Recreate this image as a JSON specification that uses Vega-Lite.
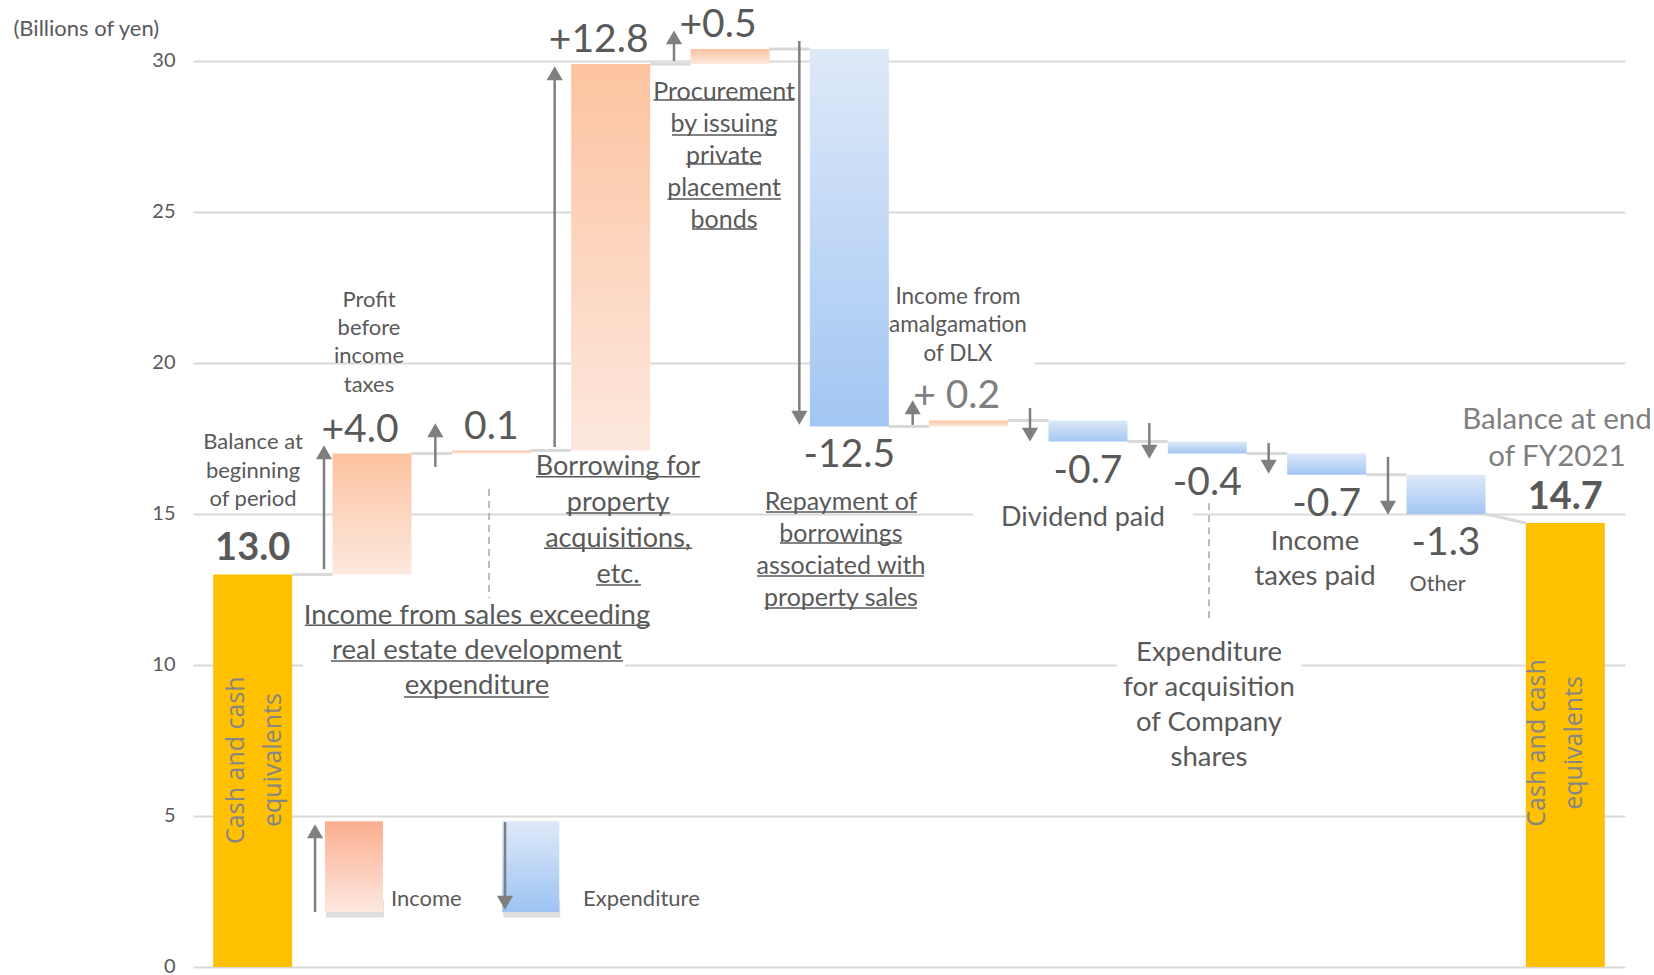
{
  "$schema": "https://vega.github.io/schema/vega-lite/v6.json",
  "width": 1432,
  "height": 906,
  "autosize": {"type": "none"},
  "padding": {"left": 193, "top": 61, "right": 29, "bottom": 8},
  "background": "white",
  "config": {"view": {"stroke": null}, "font": "Lato", "text": {"font": "Lato", "color": "#595959"}},
  "data": {"values": [{}]},
  "datasets": {
    "steps": [
      {"order": 1, "step": "Balance at beginning of period", "kind": "balance", "start": 0, "end": 13.0, "label": "13.0"},
      {"order": 2, "step": "Profit before income taxes", "kind": "income", "start": 13.0, "end": 17.0, "label": "+4.0"},
      {"order": 3, "step": "Income from sales exceeding real estate development expenditure", "kind": "income", "start": 17.0, "end": 17.1, "label": "0.1"},
      {"order": 4, "step": "Borrowing for property acquisitions, etc.", "kind": "income", "start": 17.1, "end": 29.9, "label": "+12.8"},
      {"order": 5, "step": "Procurement by issuing private placement bonds", "kind": "income", "start": 29.9, "end": 30.4, "label": "+0.5"},
      {"order": 6, "step": "Repayment of borrowings associated with property sales", "kind": "expenditure", "start": 30.4, "end": 17.9, "label": "-12.5"},
      {"order": 7, "step": "Income from amalgamation of DLX", "kind": "income", "start": 17.9, "end": 18.1, "label": "+ 0.2"},
      {"order": 8, "step": "Dividend paid", "kind": "expenditure", "start": 18.1, "end": 17.4, "label": "-0.7"},
      {"order": 9, "step": "Expenditure for acquisition of Company shares", "kind": "expenditure", "start": 17.4, "end": 17.0, "label": "-0.4"},
      {"order": 10, "step": "Income taxes paid", "kind": "expenditure", "start": 17.0, "end": 16.3, "label": "-0.7"},
      {"order": 11, "step": "Other", "kind": "expenditure", "start": 16.3, "end": 15.0, "label": "-1.3"},
      {"order": 12, "step": "Balance at end of FY2021", "kind": "balance", "start": 0, "end": 14.7, "label": "14.7"}
    ],
    "arrows": [
      {"order": 2, "base": 13.17, "tip": 17.35, "dir": "up"},
      {"order": 3, "base": 16.56, "tip": 18.08, "dir": "up"},
      {"order": 4, "base": 17.22, "tip": 29.9, "dir": "up"},
      {"order": 5, "base": 30.0, "tip": 31.09, "dir": "up"},
      {"order": 6, "base": 30.66, "tip": 17.88, "dir": "down"},
      {"order": 7, "base": 17.95, "tip": 18.84, "dir": "up"},
      {"order": 8, "base": 18.51, "tip": 17.32, "dir": "down"},
      {"order": 9, "base": 18.01, "tip": 16.75, "dir": "down"},
      {"order": 10, "base": 17.35, "tip": 16.26, "dir": "down"},
      {"order": 11, "base": 16.89, "tip": 14.9, "dir": "down"}
    ]
  },
  "layer": [
    {
      "data": {"name": "steps"},
      "transform": [{"filter": "datum.kind == 'balance'"}],
      "mark": {"type": "bar", "width": 79, "color": "#FFC000"},
      "encoding": {
        "x": {"field": "order", "type": "quantitative", "scale": {"domain": [0.5, 12.5], "nice": false, "zero": false, "padding": 0}, "axis": null},
        "y": {"field": "start", "type": "quantitative", "scale": {"domain": [0, 30], "nice": false},
          "axis": {"orient": "left", "values": [0, 5, 10, 15, 20, 25, 30], "grid": true, "gridColor": "#D9D9D9", "gridWidth": 2, "domain": false, "ticks": false,
            "labelFont": "Lato", "labelFontSize": 20, "labelColor": "#595959", "labelPadding": 18, "labelOffset": -1,
            "title": "(Billions of yen)", "titleAngle": 0, "titleAlign": "left", "titleBaseline": "middle", "titleX": -180, "titleY": -33,
            "titleFont": "Lato", "titleFontSize": 22, "titleFontWeight": "normal", "titleColor": "#595959"}},
        "y2": {"field": "end"}
      }
    },
    {
      "mark": {"type": "rect", "fill": "white"},
      "encoding": {
        "x": {"datum": 4.335, "type": "quantitative", "scale": {"domain": [0.5, 12.5], "nice": false, "zero": false, "padding": 0}, "axis": null},
        "x2": {"datum": 5.665},
        "y": {"datum": 23.2, "type": "quantitative", "scale": {"domain": [0, 30], "nice": false}},
        "y2": {"datum": 29.5}
      }
    },
    {
      "mark": {"type": "rect", "fill": "white"},
      "encoding": {
        "x": {"datum": 6.335, "type": "quantitative", "scale": {"domain": [0.5, 12.5], "nice": false, "zero": false, "padding": 0}, "axis": null},
        "x2": {"datum": 7.55},
        "y": {"datum": 19.3, "type": "quantitative", "scale": {"domain": [0, 30], "nice": false}},
        "y2": {"datum": 22.6}
      }
    },
    {
      "mark": {"type": "rect", "fill": "white"},
      "encoding": {
        "x": {"datum": 7.04, "type": "quantitative", "scale": {"domain": [0.5, 12.5], "nice": false, "zero": false, "padding": 0}, "axis": null},
        "x2": {"datum": 8.88},
        "y": {"datum": 14.3, "type": "quantitative", "scale": {"domain": [0, 30], "nice": false}},
        "y2": {"datum": 15.5}
      }
    },
    {
      "mark": {"type": "rect", "fill": "white"},
      "encoding": {
        "x": {"datum": 8.24, "type": "quantitative", "scale": {"domain": [0.5, 12.5], "nice": false, "zero": false, "padding": 0}, "axis": null},
        "x2": {"datum": 9.79},
        "y": {"datum": 9.17, "type": "quantitative", "scale": {"domain": [0, 30], "nice": false}},
        "y2": {"datum": 10.83}
      }
    },
    {
      "mark": {"type": "rect", "fill": "white"},
      "encoding": {
        "x": {"datum": 1.42, "type": "quantitative", "scale": {"domain": [0.5, 12.5], "nice": false, "zero": false, "padding": 0}, "axis": null},
        "x2": {"datum": 4.12},
        "y": {"datum": 9.17, "type": "quantitative", "scale": {"domain": [0, 30], "nice": false}},
        "y2": {"datum": 10.83}
      }
    },
    {
      "data": {"name": "steps"},
      "transform": [{"filter": "datum.kind != 'balance'"}],
      "mark": {"type": "rule", "stroke": "#D9D9D9", "strokeWidth": 3, "xOffset": -80, "x2Offset": -39.5},
      "encoding": {
        "x": {"field": "order", "type": "quantitative", "scale": {"domain": [0.5, 12.5], "nice": false, "zero": false, "padding": 0}, "axis": null},
        "x2": {"field": "order"},
        "y": {"field": "start", "type": "quantitative", "scale": {"domain": [0, 30], "nice": false}}
      }
    },
    {
      "mark": {"type": "rule", "stroke": "#D9D9D9", "strokeWidth": 3, "xOffset": 39.5, "x2Offset": -39.5},
      "encoding": {
        "x": {"datum": 11, "type": "quantitative", "scale": {"domain": [0.5, 12.5], "nice": false, "zero": false, "padding": 0}, "axis": null},
        "x2": {"datum": 12},
        "y": {"datum": 15.0, "type": "quantitative", "scale": {"domain": [0, 30], "nice": false}},
        "y2": {"datum": 14.7}
      }
    },
    {
      "data": {"name": "steps"},
      "transform": [{"filter": "datum.kind == 'income'"}],
      "mark": {"type": "bar", "width": 79, "color": {"gradient": "linear", "x1": 0, "y1": 0, "x2": 0, "y2": 1, "stops": [{"offset": 0, "color": "#FCC3A0"}, {"offset": 1, "color": "#FDE8DE"}]}},
      "encoding": {
        "x": {"field": "order", "type": "quantitative", "scale": {"domain": [0.5, 12.5], "nice": false, "zero": false, "padding": 0}, "axis": null},
        "y": {"field": "start", "type": "quantitative", "scale": {"domain": [0, 30], "nice": false}},
        "y2": {"field": "end"}
      }
    },
    {
      "data": {"name": "steps"},
      "transform": [{"filter": "datum.kind == 'expenditure'"}],
      "mark": {"type": "bar", "width": 79, "color": {"gradient": "linear", "x1": 0, "y1": 0, "x2": 0, "y2": 1, "stops": [{"offset": 0, "color": "#DEE9F8"}, {"offset": 1, "color": "#A2C6F3"}]}},
      "encoding": {
        "x": {"field": "order", "type": "quantitative", "scale": {"domain": [0.5, 12.5], "nice": false, "zero": false, "padding": 0}, "axis": null},
        "y": {"field": "start", "type": "quantitative", "scale": {"domain": [0, 30], "nice": false}},
        "y2": {"field": "end"}
      }
    },
    {
      "data": {"name": "arrows"},
      "transform": [{"filter": "datum.dir == 'up' && datum.order != 2"}],
      "mark": {"type": "rule", "stroke": "#7F7F7F", "strokeWidth": 2.5, "xOffset": -56, "x2Offset": -56, "y2Offset": 7},
      "encoding": {
        "x": {"field": "order", "type": "quantitative", "scale": {"domain": [0.5, 12.5], "nice": false, "zero": false, "padding": 0}, "axis": null},
        "y": {"field": "base", "type": "quantitative", "scale": {"domain": [0, 30], "nice": false}},
        "y2": {"field": "tip"}
      }
    },
    {
      "data": {"name": "arrows"},
      "transform": [{"filter": "datum.dir == 'up' && datum.order != 2"}],
      "mark": {"type": "point", "shape": "triangle-up", "size": 260, "filled": true, "opacity": 1, "color": "#7F7F7F", "xOffset": -56, "yOffset": 9.3},
      "encoding": {
        "x": {"field": "order", "type": "quantitative", "scale": {"domain": [0.5, 12.5], "nice": false, "zero": false, "padding": 0}, "axis": null},
        "y": {"field": "tip", "type": "quantitative", "scale": {"domain": [0, 30], "nice": false}}
      }
    },
    {
      "data": {"name": "arrows"},
      "transform": [{"filter": "datum.order == 2"}],
      "mark": {"type": "rule", "stroke": "#7F7F7F", "strokeWidth": 2.5, "xOffset": -48, "x2Offset": -48, "y2Offset": 7},
      "encoding": {
        "x": {"field": "order", "type": "quantitative", "scale": {"domain": [0.5, 12.5], "nice": false, "zero": false, "padding": 0}, "axis": null},
        "y": {"field": "base", "type": "quantitative", "scale": {"domain": [0, 30], "nice": false}},
        "y2": {"field": "tip"}
      }
    },
    {
      "data": {"name": "arrows"},
      "transform": [{"filter": "datum.order == 2"}],
      "mark": {"type": "point", "shape": "triangle-up", "size": 260, "filled": true, "opacity": 1, "color": "#7F7F7F", "xOffset": -48, "yOffset": 9.3},
      "encoding": {
        "x": {"field": "order", "type": "quantitative", "scale": {"domain": [0.5, 12.5], "nice": false, "zero": false, "padding": 0}, "axis": null},
        "y": {"field": "tip", "type": "quantitative", "scale": {"domain": [0, 30], "nice": false}}
      }
    },
    {
      "data": {"name": "arrows"},
      "transform": [{"filter": "datum.dir == 'down' && datum.order != 6"}],
      "mark": {"type": "rule", "stroke": "#7F7F7F", "strokeWidth": 2.5, "xOffset": -58, "x2Offset": -58, "y2Offset": -7},
      "encoding": {
        "x": {"field": "order", "type": "quantitative", "scale": {"domain": [0.5, 12.5], "nice": false, "zero": false, "padding": 0}, "axis": null},
        "y": {"field": "base", "type": "quantitative", "scale": {"domain": [0, 30], "nice": false}},
        "y2": {"field": "tip"}
      }
    },
    {
      "data": {"name": "arrows"},
      "transform": [{"filter": "datum.dir == 'down' && datum.order != 6"}],
      "mark": {"type": "point", "shape": "triangle-down", "size": 260, "filled": true, "opacity": 1, "color": "#7F7F7F", "xOffset": -58, "yOffset": -9.3},
      "encoding": {
        "x": {"field": "order", "type": "quantitative", "scale": {"domain": [0.5, 12.5], "nice": false, "zero": false, "padding": 0}, "axis": null},
        "y": {"field": "tip", "type": "quantitative", "scale": {"domain": [0, 30], "nice": false}}
      }
    },
    {
      "data": {"name": "arrows"},
      "transform": [{"filter": "datum.order == 6"}],
      "mark": {"type": "rule", "stroke": "#7F7F7F", "strokeWidth": 2.5, "xOffset": -50, "x2Offset": -50, "y2Offset": -7},
      "encoding": {
        "x": {"field": "order", "type": "quantitative", "scale": {"domain": [0.5, 12.5], "nice": false, "zero": false, "padding": 0}, "axis": null},
        "y": {"field": "base", "type": "quantitative", "scale": {"domain": [0, 30], "nice": false}},
        "y2": {"field": "tip"}
      }
    },
    {
      "data": {"name": "arrows"},
      "transform": [{"filter": "datum.order == 6"}],
      "mark": {"type": "point", "shape": "triangle-down", "size": 260, "filled": true, "opacity": 1, "color": "#7F7F7F", "xOffset": -50, "yOffset": -9.3},
      "encoding": {
        "x": {"field": "order", "type": "quantitative", "scale": {"domain": [0.5, 12.5], "nice": false, "zero": false, "padding": 0}, "axis": null},
        "y": {"field": "tip", "type": "quantitative", "scale": {"domain": [0, 30], "nice": false}}
      }
    },
    {
      "mark": {"type": "rule", "stroke": "#A6A6A6", "strokeWidth": 1.5, "strokeDash": [7, 5]},
      "encoding": {
        "x": {"datum": 2.981, "type": "quantitative", "scale": {"domain": [0.5, 12.5], "nice": false, "zero": false, "padding": 0}, "axis": null},
        "y": {"datum": 15.83, "type": "quantitative", "scale": {"domain": [0, 30], "nice": false}},
        "y2": {"datum": 12.22}
      }
    },
    {
      "mark": {"type": "rule", "stroke": "#A6A6A6", "strokeWidth": 1.5, "strokeDash": [7, 5]},
      "encoding": {
        "x": {"datum": 9.014, "type": "quantitative", "scale": {"domain": [0.5, 12.5], "nice": false, "zero": false, "padding": 0}, "axis": null},
        "y": {"datum": 15.36, "type": "quantitative", "scale": {"domain": [0, 30], "nice": false}},
        "y2": {"datum": 11.42}
      }
    },
    {
      "data": {"name": "steps"},
      "transform": [{"filter": "datum.kind == 'balance'"}],
      "mark": {"type": "text", "fontSize": 38, "fontWeight": "bold", "color": "#595959", "baseline": "middle", "dy": -25},
      "encoding": {
        "x": {"field": "order", "type": "quantitative", "scale": {"domain": [0.5, 12.5], "nice": false, "zero": false, "padding": 0}, "axis": null},
        "y": {"field": "end", "type": "quantitative", "scale": {"domain": [0, 30], "nice": false}},
        "text": {"field": "label"}
      }
    },
    {
      "data": {"name": "steps"},
      "transform": [{"filter": "datum.kind == 'income' && indexof(datum.label, '+') == 0 && datum.order != 7"}],
      "mark": {"type": "text", "fontSize": 39, "color": "#595959", "baseline": "middle", "dy": -24, "dx": -12},
      "encoding": {
        "x": {"field": "order", "type": "quantitative", "scale": {"domain": [0.5, 12.5], "nice": false, "zero": false, "padding": 0}, "axis": null},
        "y": {"field": "end", "type": "quantitative", "scale": {"domain": [0, 30], "nice": false}},
        "text": {"field": "label"}
      }
    },
    {
      "data": {"name": "steps"},
      "transform": [{"filter": "datum.order == 7"}],
      "mark": {"type": "text", "fontSize": 39, "color": "#7F7F7F", "baseline": "middle", "dy": -24, "dx": -12},
      "encoding": {
        "x": {"field": "order", "type": "quantitative", "scale": {"domain": [0.5, 12.5], "nice": false, "zero": false, "padding": 0}, "axis": null},
        "y": {"field": "end", "type": "quantitative", "scale": {"domain": [0, 30], "nice": false}},
        "text": {"field": "label"}
      }
    },
    {
      "data": {"name": "steps"},
      "transform": [{"filter": "datum.kind == 'income' && indexof(datum.label, '+') != 0"}],
      "mark": {"type": "text", "fontSize": 39, "color": "#595959", "baseline": "middle", "dy": -24},
      "encoding": {
        "x": {"field": "order", "type": "quantitative", "scale": {"domain": [0.5, 12.5], "nice": false, "zero": false, "padding": 0}, "axis": null},
        "y": {"field": "end", "type": "quantitative", "scale": {"domain": [0, 30], "nice": false}},
        "text": {"field": "label"}
      }
    },
    {
      "data": {"name": "steps"},
      "transform": [{"filter": "datum.kind == 'expenditure'"}],
      "mark": {"type": "text", "fontSize": 39, "color": "#595959", "baseline": "middle", "dy": 29},
      "encoding": {
        "x": {"field": "order", "type": "quantitative", "scale": {"domain": [0.5, 12.5], "nice": false, "zero": false, "padding": 0}, "axis": null},
        "y": {"field": "end", "type": "quantitative", "scale": {"domain": [0, 30], "nice": false}},
        "text": {"field": "label"}
      }
    },
    {
      "mark": {"type": "text", "fontSize": 22, "color": "#595959", "baseline": "middle", "lineHeight": 28.5, "text": ["Balance at", "beginning", "of period"]},
      "encoding": {
        "x": {"datum": 1.003, "type": "quantitative", "scale": {"domain": [0.5, 12.5], "nice": false, "zero": false, "padding": 0}, "axis": null},
        "y": {"datum": 17.38, "type": "quantitative", "scale": {"domain": [0, 30], "nice": false}}
      }
    },
    {
      "mark": {"type": "text", "fontSize": 22, "color": "#595959", "baseline": "middle", "lineHeight": 28.3, "text": ["Profit", "before", "income", "taxes"]},
      "encoding": {
        "x": {"datum": 1.975, "type": "quantitative", "scale": {"domain": [0.5, 12.5], "nice": false, "zero": false, "padding": 0}, "axis": null},
        "y": {"datum": 22.09, "type": "quantitative", "scale": {"domain": [0, 30], "nice": false}}
      }
    },
    {
      "mark": {"type": "text", "fontSize": 27.5, "color": "#595959", "baseline": "middle", "lineHeight": 35, "text": ["Income from sales exceeding", "real estate development", "expenditure"]},
      "encoding": {
        "x": {"datum": 2.88, "type": "quantitative", "scale": {"domain": [0.5, 12.5], "nice": false, "zero": false, "padding": 0}, "axis": null},
        "y": {"datum": 11.62, "type": "quantitative", "scale": {"domain": [0, 30], "nice": false}}
      }
    },
    {
      "mark": {"type": "text", "fontSize": 27, "color": "#595959", "baseline": "middle", "lineHeight": 36, "text": ["Borrowing for", "property", "acquisitions,", "etc."]},
      "encoding": {
        "x": {"datum": 4.062, "type": "quantitative", "scale": {"domain": [0.5, 12.5], "nice": false, "zero": false, "padding": 0}, "axis": null},
        "y": {"datum": 16.57, "type": "quantitative", "scale": {"domain": [0, 30], "nice": false}}
      }
    },
    {
      "mark": {"type": "text", "fontSize": 25, "color": "#595959", "baseline": "middle", "lineHeight": 32, "text": ["Procurement", "by issuing", "private", "placement", "bonds"]},
      "encoding": {
        "x": {"datum": 4.95, "type": "quantitative", "scale": {"domain": [0.5, 12.5], "nice": false, "zero": false, "padding": 0}, "axis": null},
        "y": {"datum": 28.97, "type": "quantitative", "scale": {"domain": [0, 30], "nice": false}}
      }
    },
    {
      "mark": {"type": "text", "fontSize": 25, "color": "#595959", "baseline": "middle", "lineHeight": 32, "text": ["Repayment of", "borrowings", "associated with", "property sales"]},
      "encoding": {
        "x": {"datum": 5.93, "type": "quantitative", "scale": {"domain": [0.5, 12.5], "nice": false, "zero": false, "padding": 0}, "axis": null},
        "y": {"datum": 15.4, "type": "quantitative", "scale": {"domain": [0, 30], "nice": false}}
      }
    },
    {
      "mark": {"type": "text", "fontSize": 22.5, "color": "#595959", "baseline": "middle", "lineHeight": 28.5, "text": ["Income from", "amalgamation", "of DLX"]},
      "encoding": {
        "x": {"datum": 6.91, "type": "quantitative", "scale": {"domain": [0.5, 12.5], "nice": false, "zero": false, "padding": 0}, "axis": null},
        "y": {"datum": 22.19, "type": "quantitative", "scale": {"domain": [0, 30], "nice": false}}
      }
    },
    {
      "mark": {"type": "text", "fontSize": 27, "color": "#595959", "baseline": "middle", "text": "Dividend paid"},
      "encoding": {
        "x": {"datum": 7.958, "type": "quantitative", "scale": {"domain": [0.5, 12.5], "nice": false, "zero": false, "padding": 0}, "axis": null},
        "y": {"datum": 14.87, "type": "quantitative", "scale": {"domain": [0, 30], "nice": false}}
      }
    },
    {
      "mark": {"type": "text", "fontSize": 27.5, "color": "#595959", "baseline": "middle", "lineHeight": 35, "text": ["Expenditure", "for acquisition", "of Company", "shares"]},
      "encoding": {
        "x": {"datum": 9.014, "type": "quantitative", "scale": {"domain": [0.5, 12.5], "nice": false, "zero": false, "padding": 0}, "axis": null},
        "y": {"datum": 10.4, "type": "quantitative", "scale": {"domain": [0, 30], "nice": false}}
      }
    },
    {
      "mark": {"type": "text", "fontSize": 27.5, "color": "#595959", "baseline": "middle", "lineHeight": 35, "text": ["Income", "taxes paid"]},
      "encoding": {
        "x": {"datum": 9.902, "type": "quantitative", "scale": {"domain": [0.5, 12.5], "nice": false, "zero": false, "padding": 0}, "axis": null},
        "y": {"datum": 14.07, "type": "quantitative", "scale": {"domain": [0, 30], "nice": false}}
      }
    },
    {
      "mark": {"type": "text", "fontSize": 21.5, "color": "#595959", "baseline": "middle", "text": "Other"},
      "encoding": {
        "x": {"datum": 10.93, "type": "quantitative", "scale": {"domain": [0.5, 12.5], "nice": false, "zero": false, "padding": 0}, "axis": null},
        "y": {"datum": 12.65, "type": "quantitative", "scale": {"domain": [0, 30], "nice": false}}
      }
    },
    {
      "mark": {"type": "text", "fontSize": 29.5, "color": "#7F7F7F", "baseline": "middle", "lineHeight": 37, "text": ["Balance at end", "of FY2021"]},
      "encoding": {
        "x": {"datum": 11.93, "type": "quantitative", "scale": {"domain": [0.5, 12.5], "nice": false, "zero": false, "padding": 0}, "axis": null},
        "y": {"datum": 18.11, "type": "quantitative", "scale": {"domain": [0, 30], "nice": false}}
      }
    },
    {
      "mark": {"type": "text", "font": "Open Sans", "fontSize": 25, "color": "#858585", "baseline": "middle", "angle": 270, "lineHeight": 37, "text": ["Cash and cash", "equivalents"]},
      "encoding": {
        "x": {"datum": 0.86, "type": "quantitative", "scale": {"domain": [0.5, 12.5], "nice": false, "zero": false, "padding": 0}, "axis": null},
        "y": {"datum": 6.85, "type": "quantitative", "scale": {"domain": [0, 30], "nice": false}}
      }
    },
    {
      "mark": {"type": "text", "font": "Open Sans", "fontSize": 25, "color": "#858585", "baseline": "middle", "angle": 270, "lineHeight": 37, "text": ["Cash and cash", "equivalents"]},
      "encoding": {
        "x": {"datum": 11.76, "type": "quantitative", "scale": {"domain": [0.5, 12.5], "nice": false, "zero": false, "padding": 0}, "axis": null},
        "y": {"datum": 7.42, "type": "quantitative", "scale": {"domain": [0, 30], "nice": false}}
      }
    },
    {
      "mark": {"type": "rule", "stroke": "#595959", "strokeWidth": 1.5},
      "encoding": {
        "x": {"datum": 1.439, "type": "quantitative", "scale": {"domain": [0.5, 12.5], "nice": false, "zero": false, "padding": 0}, "axis": null},
        "x2": {"datum": 4.33},
        "y": {"datum": 11.32, "type": "quantitative", "scale": {"domain": [0, 30], "nice": false}}
      }
    },
    {
      "mark": {"type": "rule", "stroke": "#595959", "strokeWidth": 1.5},
      "encoding": {
        "x": {"datum": 1.656, "type": "quantitative", "scale": {"domain": [0.5, 12.5], "nice": false, "zero": false, "padding": 0}, "axis": null},
        "x2": {"datum": 4.103},
        "y": {"datum": 10.13, "type": "quantitative", "scale": {"domain": [0, 30], "nice": false}}
      }
    },
    {
      "mark": {"type": "rule", "stroke": "#595959", "strokeWidth": 1.5},
      "encoding": {
        "x": {"datum": 2.268, "type": "quantitative", "scale": {"domain": [0.5, 12.5], "nice": false, "zero": false, "padding": 0}, "axis": null},
        "x2": {"datum": 3.483},
        "y": {"datum": 8.94, "type": "quantitative", "scale": {"domain": [0, 30], "nice": false}}
      }
    },
    {
      "mark": {"type": "rule", "stroke": "#595959", "strokeWidth": 1.5},
      "encoding": {
        "x": {"datum": 3.374, "type": "quantitative", "scale": {"domain": [0.5, 12.5], "nice": false, "zero": false, "padding": 0}, "axis": null},
        "x2": {"datum": 4.749},
        "y": {"datum": 16.23, "type": "quantitative", "scale": {"domain": [0, 30], "nice": false}}
      }
    },
    {
      "mark": {"type": "rule", "stroke": "#595959", "strokeWidth": 1.5},
      "encoding": {
        "x": {"datum": 3.626, "type": "quantitative", "scale": {"domain": [0.5, 12.5], "nice": false, "zero": false, "padding": 0}, "axis": null},
        "x2": {"datum": 4.497},
        "y": {"datum": 15.03, "type": "quantitative", "scale": {"domain": [0, 30], "nice": false}}
      }
    },
    {
      "mark": {"type": "rule", "stroke": "#595959", "strokeWidth": 1.5},
      "encoding": {
        "x": {"datum": 3.441, "type": "quantitative", "scale": {"domain": [0.5, 12.5], "nice": false, "zero": false, "padding": 0}, "axis": null},
        "x2": {"datum": 4.682},
        "y": {"datum": 13.87, "type": "quantitative", "scale": {"domain": [0, 30], "nice": false}}
      }
    },
    {
      "mark": {"type": "rule", "stroke": "#595959", "strokeWidth": 1.5},
      "encoding": {
        "x": {"datum": 3.877, "type": "quantitative", "scale": {"domain": [0.5, 12.5], "nice": false, "zero": false, "padding": 0}, "axis": null},
        "x2": {"datum": 4.254},
        "y": {"datum": 12.65, "type": "quantitative", "scale": {"domain": [0, 30], "nice": false}}
      }
    },
    {
      "mark": {"type": "rule", "stroke": "#595959", "strokeWidth": 1.5},
      "encoding": {
        "x": {"datum": 4.36, "type": "quantitative", "scale": {"domain": [0.5, 12.5], "nice": false, "zero": false, "padding": 0}, "axis": null},
        "x2": {"datum": 5.541},
        "y": {"datum": 28.71, "type": "quantitative", "scale": {"domain": [0, 30], "nice": false}}
      }
    },
    {
      "mark": {"type": "rule", "stroke": "#595959", "strokeWidth": 1.5},
      "encoding": {
        "x": {"datum": 4.514, "type": "quantitative", "scale": {"domain": [0.5, 12.5], "nice": false, "zero": false, "padding": 0}, "axis": null},
        "x2": {"datum": 5.386},
        "y": {"datum": 27.55, "type": "quantitative", "scale": {"domain": [0, 30], "nice": false}}
      }
    },
    {
      "mark": {"type": "rule", "stroke": "#595959", "strokeWidth": 1.5},
      "encoding": {
        "x": {"datum": 4.631, "type": "quantitative", "scale": {"domain": [0.5, 12.5], "nice": false, "zero": false, "padding": 0}, "axis": null},
        "x2": {"datum": 5.26},
        "y": {"datum": 26.59, "type": "quantitative", "scale": {"domain": [0, 30], "nice": false}}
      }
    },
    {
      "mark": {"type": "rule", "stroke": "#595959", "strokeWidth": 1.5},
      "encoding": {
        "x": {"datum": 4.476, "type": "quantitative", "scale": {"domain": [0.5, 12.5], "nice": false, "zero": false, "padding": 0}, "axis": null},
        "x2": {"datum": 5.427},
        "y": {"datum": 25.43, "type": "quantitative", "scale": {"domain": [0, 30], "nice": false}}
      }
    },
    {
      "mark": {"type": "rule", "stroke": "#595959", "strokeWidth": 1.5},
      "encoding": {
        "x": {"datum": 4.682, "type": "quantitative", "scale": {"domain": [0.5, 12.5], "nice": false, "zero": false, "padding": 0}, "axis": null},
        "x2": {"datum": 5.226},
        "y": {"datum": 24.44, "type": "quantitative", "scale": {"domain": [0, 30], "nice": false}}
      }
    },
    {
      "mark": {"type": "rule", "stroke": "#595959", "strokeWidth": 1.5},
      "encoding": {
        "x": {"datum": 5.302, "type": "quantitative", "scale": {"domain": [0.5, 12.5], "nice": false, "zero": false, "padding": 0}, "axis": null},
        "x2": {"datum": 6.567},
        "y": {"datum": 15.07, "type": "quantitative", "scale": {"domain": [0, 30], "nice": false}}
      }
    },
    {
      "mark": {"type": "rule", "stroke": "#595959", "strokeWidth": 1.5},
      "encoding": {
        "x": {"datum": 5.419, "type": "quantitative", "scale": {"domain": [0.5, 12.5], "nice": false, "zero": false, "padding": 0}, "axis": null},
        "x2": {"datum": 6.441},
        "y": {"datum": 14.04, "type": "quantitative", "scale": {"domain": [0, 30], "nice": false}}
      }
    },
    {
      "mark": {"type": "rule", "stroke": "#595959", "strokeWidth": 1.5},
      "encoding": {
        "x": {"datum": 5.226, "type": "quantitative", "scale": {"domain": [0.5, 12.5], "nice": false, "zero": false, "padding": 0}, "axis": null},
        "x2": {"datum": 6.626},
        "y": {"datum": 12.95, "type": "quantitative", "scale": {"domain": [0, 30], "nice": false}}
      }
    },
    {
      "mark": {"type": "rule", "stroke": "#595959", "strokeWidth": 1.5},
      "encoding": {
        "x": {"datum": 5.289, "type": "quantitative", "scale": {"domain": [0.5, 12.5], "nice": false, "zero": false, "padding": 0}, "axis": null},
        "x2": {"datum": 6.567},
        "y": {"datum": 11.89, "type": "quantitative", "scale": {"domain": [0, 30], "nice": false}}
      }
    },
    {
      "mark": {"type": "rect", "fill": "#C8C8C8", "opacity": 0.6},
      "encoding": {
        "x": {"datum": 1.615, "type": "quantitative", "scale": {"domain": [0.5, 12.5], "nice": false, "zero": false, "padding": 0}, "axis": null},
        "x2": {"datum": 2.1},
        "y": {"datum": 1.64, "type": "quantitative", "scale": {"domain": [0, 30], "nice": false}},
        "y2": {"datum": 2.2}
      }
    },
    {
      "mark": {"type": "rect", "fill": "#C8C8C8", "opacity": 0.6},
      "encoding": {
        "x": {"datum": 3.1, "type": "quantitative", "scale": {"domain": [0.5, 12.5], "nice": false, "zero": false, "padding": 0}, "axis": null},
        "x2": {"datum": 3.577},
        "y": {"datum": 1.64, "type": "quantitative", "scale": {"domain": [0, 30], "nice": false}},
        "y2": {"datum": 2.2}
      }
    },
    {
      "mark": {"type": "rect", "color": {"gradient": "linear", "x1": 0, "y1": 0, "x2": 0, "y2": 1, "stops": [{"offset": 0, "color": "#FBAE8E"}, {"offset": 1, "color": "#FDE8E0"}]}},
      "encoding": {
        "x": {"datum": 1.606, "type": "quantitative", "scale": {"domain": [0.5, 12.5], "nice": false, "zero": false, "padding": 0}, "axis": null},
        "x2": {"datum": 2.092},
        "y": {"datum": 1.82, "type": "quantitative", "scale": {"domain": [0, 30], "nice": false}},
        "y2": {"datum": 4.83}
      }
    },
    {
      "mark": {"type": "rect", "color": {"gradient": "linear", "x1": 0, "y1": 0, "x2": 0, "y2": 1, "stops": [{"offset": 0, "color": "#DEE9F8"}, {"offset": 1, "color": "#9DC3F3"}]}},
      "encoding": {
        "x": {"datum": 3.091, "type": "quantitative", "scale": {"domain": [0.5, 12.5], "nice": false, "zero": false, "padding": 0}, "axis": null},
        "x2": {"datum": 3.569},
        "y": {"datum": 1.82, "type": "quantitative", "scale": {"domain": [0, 30], "nice": false}},
        "y2": {"datum": 4.83}
      }
    },
    {
      "mark": {"type": "rule", "stroke": "#7F7F7F", "strokeWidth": 2.5, "y2Offset": 7},
      "encoding": {
        "x": {"datum": 1.523, "type": "quantitative", "scale": {"domain": [0.5, 12.5], "nice": false, "zero": false, "padding": 0}, "axis": null},
        "y": {"datum": 1.82, "type": "quantitative", "scale": {"domain": [0, 30], "nice": false}},
        "y2": {"datum": 4.8}
      }
    },
    {
      "mark": {"type": "point", "shape": "triangle-up", "size": 260, "filled": true, "opacity": 1, "color": "#7F7F7F", "yOffset": 9.3},
      "encoding": {
        "x": {"datum": 1.523, "type": "quantitative", "scale": {"domain": [0.5, 12.5], "nice": false, "zero": false, "padding": 0}, "axis": null},
        "y": {"datum": 4.8, "type": "quantitative", "scale": {"domain": [0, 30], "nice": false}}
      }
    },
    {
      "mark": {"type": "rule", "stroke": "#7F7F7F", "strokeWidth": 2.5, "y2Offset": -7},
      "encoding": {
        "x": {"datum": 3.115, "type": "quantitative", "scale": {"domain": [0.5, 12.5], "nice": false, "zero": false, "padding": 0}, "axis": null},
        "y": {"datum": 4.8, "type": "quantitative", "scale": {"domain": [0, 30], "nice": false}},
        "y2": {"datum": 1.82}
      }
    },
    {
      "mark": {"type": "point", "shape": "triangle-down", "size": 260, "filled": true, "opacity": 1, "color": "#7F7F7F", "yOffset": -9.3},
      "encoding": {
        "x": {"datum": 3.115, "type": "quantitative", "scale": {"domain": [0.5, 12.5], "nice": false, "zero": false, "padding": 0}, "axis": null},
        "y": {"datum": 1.82, "type": "quantitative", "scale": {"domain": [0, 30], "nice": false}}
      }
    },
    {
      "mark": {"type": "text", "fontSize": 22, "color": "#595959", "baseline": "middle", "align": "left", "text": "Income"},
      "encoding": {
        "x": {"datum": 2.159, "type": "quantitative", "scale": {"domain": [0.5, 12.5], "nice": false, "zero": false, "padding": 0}, "axis": null},
        "y": {"datum": 2.25, "type": "quantitative", "scale": {"domain": [0, 30], "nice": false}}
      }
    },
    {
      "mark": {"type": "text", "fontSize": 22, "color": "#595959", "baseline": "middle", "align": "left", "text": "Expenditure"},
      "encoding": {
        "x": {"datum": 3.768, "type": "quantitative", "scale": {"domain": [0.5, 12.5], "nice": false, "zero": false, "padding": 0}, "axis": null},
        "y": {"datum": 2.25, "type": "quantitative", "scale": {"domain": [0, 30], "nice": false}}
      }
    }
  ]
}
